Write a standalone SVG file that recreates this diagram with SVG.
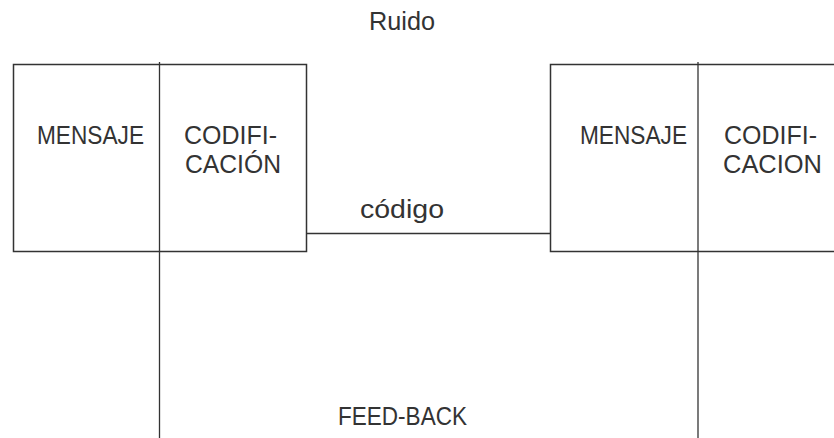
<svg xmlns="http://www.w3.org/2000/svg" width="834" height="438" viewBox="0 0 834 438">
<style>
.box{fill:none;stroke:#333;stroke-width:1.5}
.ln{fill:none;stroke:#333;stroke-width:1.3}
.t{font-family:"Liberation Sans",Arial,sans-serif;font-size:25px;fill:#333;text-anchor:middle}
</style>
<rect width="834" height="438" fill="#fff"/>
<g id="ruido"><text class="t" x="402" y="30" textLength="66" lengthAdjust="spacingAndGlyphs">Ruido</text></g>
<g id="emisor">
<rect class="box" x="13.5" y="64.5" width="293" height="187"/>
<text class="t" x="90.5" y="144" textLength="107" lengthAdjust="spacingAndGlyphs">MENSAJE</text>
<text class="t" x="230.5" y="144" textLength="93" lengthAdjust="spacingAndGlyphs">CODIFI-</text>
<text class="t" x="233" y="173" textLength="96" lengthAdjust="spacingAndGlyphs">CACIÓN</text>
</g>
<g id="receptor">
<rect class="box" x="550.5" y="64.5" width="300" height="187"/>
<text class="t" x="633.5" y="144" textLength="107" lengthAdjust="spacingAndGlyphs">MENSAJE</text>
<text class="t" x="770.5" y="144" textLength="93" lengthAdjust="spacingAndGlyphs">CODIFI-</text>
<text class="t" x="772.5" y="173" textLength="99" lengthAdjust="spacingAndGlyphs">CACION</text>
</g>
<g id="feedback"><text class="t" x="402.5" y="425" textLength="129" lengthAdjust="spacingAndGlyphs">FEED-BACK</text></g>
<g id="connectors">
<line class="ln" x1="306.5" y1="233.5" x2="550.5" y2="233.5"/>
<text class="t" x="402" y="218" textLength="84" lengthAdjust="spacingAndGlyphs">código</text>
<line class="ln" x1="159.5" y1="62" x2="159.5" y2="438"/>
<line class="ln" x1="698" y1="62" x2="698" y2="438"/>
</g>
</svg>
